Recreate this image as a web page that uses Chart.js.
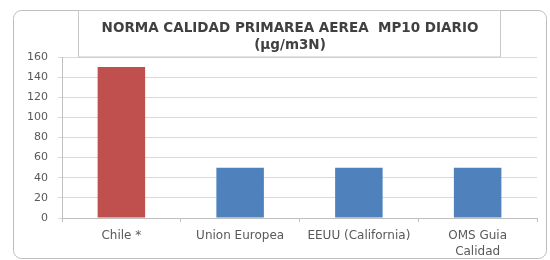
<!DOCTYPE html>
<html>
<head>
<meta charset="utf-8">
<script src="https://cdn.jsdelivr.net/npm/chart.js@4"></script>
<style>
html,body{margin:0;padding:0;background:#fff;}
#wrap{width:550px;height:260px;position:relative;}
</style>
</head>
<body>
<div id="wrap"><canvas id="c" width="550" height="260"></canvas></div>
<script>
// MP10 daily primary air quality standards
const categories=['Chile *','Union Europea','EEUU (California)',['OMS Guia','Calidad']];
const values=[150,50,50,50];
const barColors=['#c0504d','#4f81bd','#4f81bd','#4f81bd'];
const titleLines=['NORMA CALIDAD PRIMAREA AEREA  MP10 DIARIO','(µg/m3N)'];
const yMax=160,yStep=20;

const FONT='"DejaVu Sans", sans-serif';
const GRAY='#595959';

// outer frame + title box drawn over the plot, like the spreadsheet original
const frame={
  id:'frame',
  beforeDraw(ch){
    const c=ch.ctx;c.save();
    c.strokeStyle='#bdbdbd';c.lineWidth=1;
    c.beginPath();
    if(c.roundRect)c.roundRect(13.5,10.5,533,248,8);else c.rect(13.5,10.5,533,248);
    c.stroke();c.restore();
  },
  afterDraw(ch){
    const c=ch.ctx;c.save();
    c.fillStyle='#fff';c.fillRect(78,11,423,46);
    c.strokeStyle='#c8c8c8';c.lineWidth=1;c.strokeRect(78.5,10.5,422,46.5);
    c.fillStyle='#404040';c.textAlign='center';c.textBaseline='middle';
    c.font='bold 13.5px '+FONT;
    c.fillText(titleLines[0],290,28);
    c.fillText(titleLines[1],290,45);
    c.restore();
  }
};

new Chart(document.getElementById('c'),{
  type:'bar',
  data:{labels:categories,datasets:[{data:values,backgroundColor:barColors,borderWidth:0,barPercentage:0.4,categoryPercentage:1}]},
  options:{
    responsive:false,animation:false,
    layout:{padding:{top:57,right:13,left:0,bottom:0}},
    plugins:{legend:{display:false},tooltip:{enabled:false},title:{display:false}},
    scales:{
      x:{
        grid:{display:true,drawOnChartArea:false,drawTicks:true,tickLength:4,color:'#bfbfbf',offset:true},
        border:{color:'#bfbfbf'},
        ticks:{color:GRAY,font:{family:FONT,size:12,lineHeight:1.4},padding:5,maxRotation:0,autoSkip:false},
        afterFit(s){s.height=42;}
      },
      y:{
        min:0,max:yMax,
        grid:{color:'#d9d9d9',tickLength:4},
        border:{color:'#bfbfbf'},
        ticks:{stepSize:yStep,color:GRAY,font:{family:FONT,size:11},padding:10},
        afterFit(s){s.width=62;}
      }
    }
  },
  plugins:[frame]
});
</script>
</body>
</html>
